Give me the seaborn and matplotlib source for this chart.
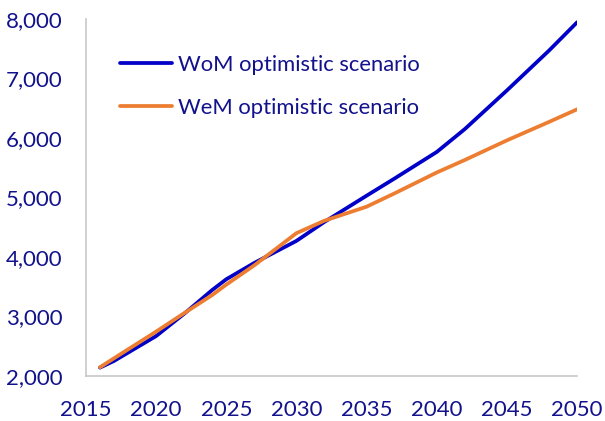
import pandas as pd
import seaborn as sns
import matplotlib.pyplot as plt

# ---------- DATA
years = [2016, 2017, 2020, 2022, 2024, 2025, 2027, 2030, 2032, 2035, 2037, 2040, 2042, 2045, 2048, 2050]
wom = [2140, 2252, 2670, 3045, 3445, 3625, 3900, 4270, 4590, 5030, 5320, 5765, 6150, 6800, 7470, 7945]
wem = [2145, 2297, 2745, 3055, 3360, 3535, 3860, 4400, 4610, 4845, 5070, 5420, 5630, 5960, 6270, 6482]
series = ["WoM optimistic scenario", "WeM optimistic scenario"]
colors = ["#0000C8", "#ED7D31"]
xticks = [2015, 2020, 2025, 2030, 2035, 2040, 2045, 2050]
yticks = [2000, 3000, 4000, 5000, 6000, 7000, 8000]

df = pd.DataFrame({"year": years * 2,
                   "value": wom + wem,
                   "scenario": [series[0]] * len(years) + [series[1]] * len(years)})

# ---------- PLOT
sns.set_theme(style="white")
plt.rcParams["font.family"] = ["Lato", "DejaVu Sans"]
txt = "#12128C"

fig = plt.figure(figsize=(6.05, 4.21), dpi=100)
ax = fig.add_axes([0.142, 0.107, 0.812, 0.848])

sns.lineplot(data=df, x="year", y="value", hue="scenario",
             palette=dict(zip(series, colors)), linewidth=2.7, ax=ax)

ax.set_xlim(2015, 2050)
ax.set_ylim(2000, 8000)
ax.set_xticks(xticks)
ax.set_yticks(yticks)
ax.set_yticklabels([f"{v:,}" for v in yticks])
ax.tick_params(axis="both", length=0, labelsize=16, labelcolor=txt)
ax.tick_params(axis="x", pad=17)
ax.tick_params(axis="y", pad=17)
ax.set_xlabel("")
ax.set_ylabel("")

for s in ["top", "right"]:
    ax.spines[s].set_visible(False)
for s in ["left", "bottom"]:
    ax.spines[s].set_color("#C8C8C8")
    ax.spines[s].set_linewidth(1.2)

leg = ax.legend(loc="upper left", bbox_to_anchor=(0.069, 0.90), frameon=False,
                fontsize=15.8, handlelength=2.36, labelspacing=1.05, handletextpad=0.3,
                borderpad=0, borderaxespad=0)
for t in leg.get_texts():
    t.set_color(txt)

fig.savefig("out.png", dpi=100)
